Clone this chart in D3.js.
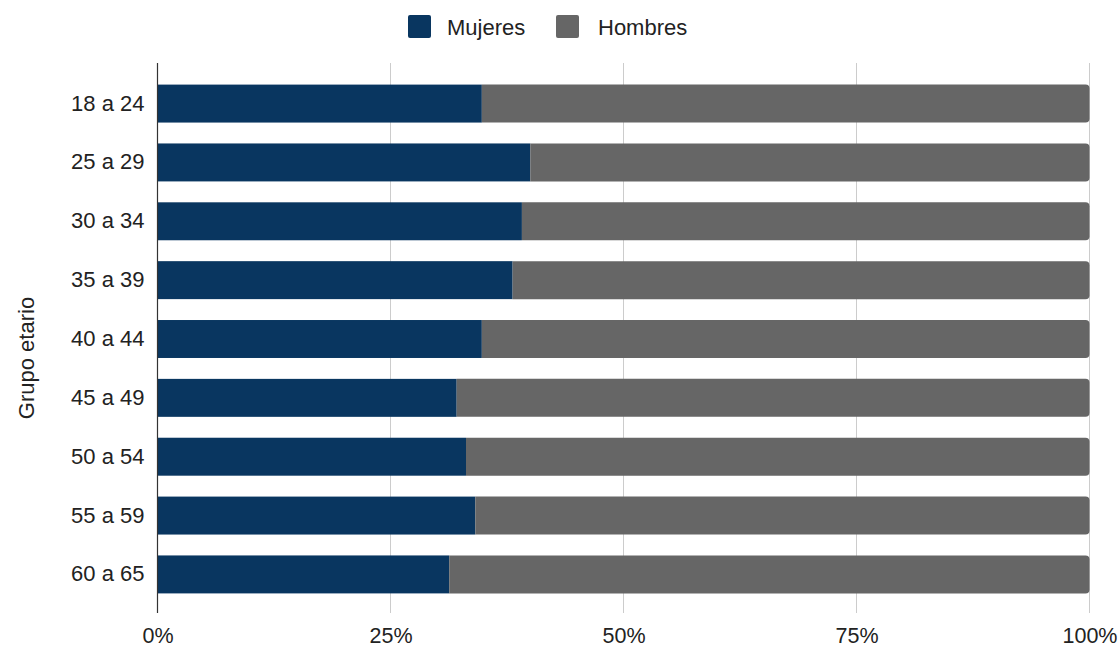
<!DOCTYPE html>
<html>
<head>
<meta charset="utf-8">
<script src="https://cdn.jsdelivr.net/npm/d3@7"></script>
<style>
  html, body { margin: 0; padding: 0; background: #fff; }
  svg { display: block; font-family: "Liberation Sans", Arial, sans-serif; }
</style>
</head>
<body>
<svg id="chart" width="1120" height="648"></svg>
<script>
// Age groups and share (%) of women and men in each
const categories = ["18 a 24", "25 a 29", "30 a 34", "35 a 39", "40 a 44", "45 a 49", "50 a 54", "55 a 59", "60 a 65"];
const mujeres = [34.8, 40.0, 39.1, 38.1, 34.8, 32.1, 33.1, 34.1, 31.3];
const hombres = [65.2, 60.0, 60.9, 61.9, 65.2, 67.9, 66.9, 65.9, 68.7];
const seriesNames = ["Mujeres", "Hombres"];
const xTicks = [0, 25, 50, 75, 100];

const colors = { Mujeres: "#093660", Hombres: "#666666" };

const svg = d3.select("#chart");
const plotLeft = 157.5, plotRight = 1089.5, plotTop = 63, plotBottom = 613;

const rows = categories.map((c, i) => ({ grupo: c, Mujeres: mujeres[i], Hombres: hombres[i] }));
const stacked = d3.stack().keys(seriesNames)(rows);

const x = d3.scaleLinear().domain([0, 100]).range([plotLeft, plotRight]);
const y = d3.scaleBand().domain(categories).range([plotTop + 1, plotBottom + 1])
  .paddingInner(0.355).paddingOuter(0.35);

// vertical gridlines
svg.append("g")
  .selectAll("line")
  .data(xTicks.filter(t => t > 0))
  .join("line")
  .attr("x1", d => x(d)).attr("x2", d => x(d))
  .attr("y1", plotTop).attr("y2", plotBottom)
  .attr("stroke", "#cccccc").attr("stroke-width", 1);

// bars
const r = 4;
stacked.forEach((layer, li) => {
  const g = svg.append("g").attr("fill", colors[layer.key]);
  if (li === stacked.length - 1) {
    // last segment: rounded outer end
    g.selectAll("path")
      .data(layer)
      .join("path")
      .attr("d", d => {
        const x0 = x(d[0]), x1 = x(d[1]);
        const y0 = y(d.data.grupo), h = y.bandwidth();
        return `M${x0},${y0}H${x1 - r}Q${x1},${y0} ${x1},${y0 + r}V${y0 + h - r}Q${x1},${y0 + h} ${x1 - r},${y0 + h}H${x0}Z`;
      });
  } else {
    g.selectAll("rect")
      .data(layer)
      .join("rect")
      .attr("x", d => x(d[0]))
      .attr("width", d => x(d[1]) - x(d[0]))
      .attr("y", d => y(d.data.grupo))
      .attr("height", y.bandwidth());
  }
});

// left axis line
svg.append("line")
  .attr("x1", plotLeft).attr("x2", plotLeft)
  .attr("y1", plotTop).attr("y2", plotBottom)
  .attr("stroke", "#333333").attr("stroke-width", 1.2);

// category labels
const yAxis = svg.append("g")
  .attr("transform", `translate(${plotLeft},0)`)
  .call(d3.axisLeft(y).tickSize(0).tickPadding(13));
yAxis.select(".domain").remove();
yAxis.selectAll("text")
  .attr("font-size", 22)
  .attr("fill", "#222222")
  .attr("font-family", "'Liberation Sans', Arial, sans-serif");

// percentage labels
const xAxis = svg.append("g")
  .attr("transform", `translate(0,${plotBottom})`)
  .call(d3.axisBottom(x).tickValues(xTicks).tickFormat(d => d + "%").tickSize(0).tickPadding(15));
xAxis.select(".domain").remove();
xAxis.selectAll("text")
  .attr("font-size", 21.5)
  .attr("fill", "#222222")
  .attr("font-family", "'Liberation Sans', Arial, sans-serif");

// axis title
svg.append("text")
  .attr("transform", `translate(34,358) rotate(-90)`)
  .attr("text-anchor", "middle")
  .attr("font-size", 22)
  .attr("fill", "#222222")
  .text("Grupo etario");

// legend
const legendItems = [
  { name: "Mujeres", sx: 408, tx: 447 },
  { name: "Hombres", sx: 556, tx: 598 }
];
const lg = svg.append("g");
lg.selectAll("rect")
  .data(legendItems)
  .join("rect")
  .attr("x", d => d.sx).attr("y", 15)
  .attr("width", 23).attr("height", 23)
  .attr("rx", 2)
  .attr("fill", d => colors[d.name]);
lg.selectAll("text")
  .data(legendItems)
  .join("text")
  .attr("x", d => d.tx).attr("y", 35)
  .attr("font-size", 22)
  .attr("fill", "#222222")
  .text(d => d.name);
</script>
</body>
</html>
